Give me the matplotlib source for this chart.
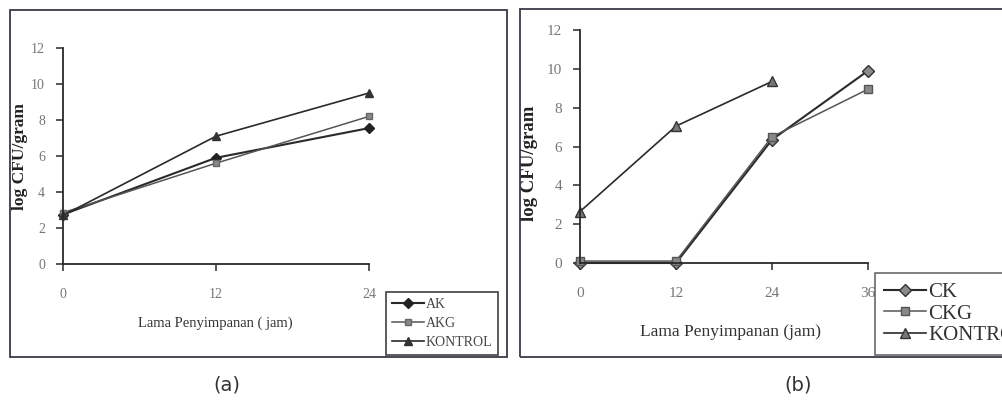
import matplotlib
matplotlib.use("Agg")
import matplotlib.pyplot as plt
from matplotlib.patches import Rectangle

# Panel (a): storage time vs. log CFU/gram
hours_a = [0, 12, 24]
ak = [2.75, 5.9, 7.55]
akg = [2.85, 5.6, 8.2]
kontrol_a = [2.7, 7.1, 9.5]
labels_a = ["AK", "AKG", "KONTROL"]

# Panel (b)
hours_b = [0, 12, 24, 36]
ck = [0.0, 0.0, 6.35, 9.9]
ckg = [0.1, 0.1, 6.5, 8.95]
hours_kontrol_b = [0, 12, 24]
kontrol_b = [2.65, 7.05, 9.35]
labels_b = ["CK", "CKG", "KONTROL"]

y_ticks = [0, 2, 4, 6, 8, 10, 12]

W, H = 1002, 401
fig = plt.figure(figsize=(W / 100, H / 100), dpi=100)
fig.patch.set_facecolor("white")

serif = ["Liberation Serif", "DejaVu Serif"]
line_col = "#2a2a2a"
tick_col = "#777777"


def px_axes(left, top, right, bottom):
    return fig.add_axes([left / W, 1 - bottom / H, (right - left) / W, (bottom - top) / H])


def frame(left, top, right, bottom, lw=1.3):
    fig.patches.append(Rectangle((left / W, 1 - bottom / H), (right - left) / W, (bottom - top) / H,
                                 transform=fig.transFigure, fill=False, edgecolor="#3a3a48",
                                 linewidth=lw, zorder=0))


def style_axes(ax, xticks, size):
    for s in ("top", "right"):
        ax.spines[s].set_visible(False)
    for s in ("left", "bottom"):
        ax.spines[s].set_color(line_col)
        ax.spines[s].set_linewidth(1.3)
    ax.set_xticks(xticks)
    ax.set_yticks(y_ticks)
    ax.tick_params(axis="both", direction="out", length=5, width=1.1, color=line_col,
                   labelcolor=tick_col, labelsize=size)
    ax.tick_params(axis="x", pad=12)
    ax.tick_params(axis="y", pad=8)
    for lab in ax.get_xticklabels() + ax.get_yticklabels():
        lab.set_family(serif)
    ax.set_ylim(0, 12)
    ax.set_facecolor("none")


# Outer frames of the two panels
frame(10, 10, 507, 357)
frame(520, 9, 1010, 357)

# ---- Panel (a) ----
axa = px_axes(63, 48, 369, 264)
axa.plot(hours_a, ak, color=line_col, lw=1.5, marker="D", ms=5, mfc="#222222", mec="#222222", label=labels_a[0], clip_on=False)
axa.plot(hours_a, akg, color="#555555", lw=1.1, marker="s", ms=5, mfc="#888888", mec="#666666", label=labels_a[1], clip_on=False)
axa.plot(hours_a, kontrol_a, color=line_col, lw=1.2, marker="^", ms=6, mfc="#333333", mec="#333333", label=labels_a[2], clip_on=False)
axa.set_xlim(0, 24)
style_axes(axa, hours_a, 10)
axa.set_ylabel("log CFU/gram", family=serif, fontweight="bold", fontsize=12.5, color="#222222")
axa.yaxis.set_label_coords((28 - 63) / 306, (264 - 157) / 216)
fig.text(215 / W, 1 - 323 / H, "Lama Penyimpanan ( jam)", family=serif, fontsize=10.5,
         color="#333333", ha="center", va="center")
lega = fig.legend(handles=axa.get_lines(), labels=labels_a, loc="upper left",
                  bbox_to_anchor=(386 / W, 1 - 292 / H), prop={"family": serif, "size": 10},
                  frameon=True, fancybox=False, edgecolor="#222222", handlelength=2.3,
                  handletextpad=0.1, labelspacing=0.42, borderpad=0.45, borderaxespad=0)
lega.get_frame().set_linewidth(1.3)
for t in lega.get_texts():
    t.set_color("#444444")

# ---- Panel (b) ----
axb = px_axes(580, 30, 868, 263)
axb.plot(hours_b, ck, color=line_col, lw=1.5, marker="D", ms=6, mfc="#8a8a8a", mec="#333333", label=labels_b[0], clip_on=False)
axb.plot(hours_b, ckg, color="#555555", lw=1.1, marker="s", ms=6, mfc="#888888", mec="#555555", label=labels_b[1], clip_on=False)
axb.plot(hours_kontrol_b, kontrol_b, color=line_col, lw=1.2, marker="^", ms=7, mfc="#777777", mec="#333333", label=labels_b[2], clip_on=False)
axb.set_xlim(0, 36)
style_axes(axb, hours_b, 11)
axb.set_ylabel("log CFU/gram", family=serif, fontweight="bold", fontsize=13.5, color="#222222")
axb.yaxis.set_label_coords((538 - 580) / 288, (263 - 163) / 233)
fig.text(730 / W, 1 - 332 / H, "Lama Penyimpanan (jam)", family=serif, fontsize=12.5,
         color="#333333", ha="center", va="center")
legb = fig.legend(handles=axb.get_lines(), labels=labels_b, loc="upper left",
                  bbox_to_anchor=(875 / W, 1 - 273 / H), prop={"family": serif, "size": 15},
                  frameon=True, fancybox=False, edgecolor="#333333", handlelength=2.0,
                  handletextpad=0.1, labelspacing=0.1, borderpad=0.45, borderaxespad=0)
legb.get_frame().set_linewidth(1.1)
for t in legb.get_texts():
    t.set_color("#333333")

# Panel captions
fig.text(227 / W, 1 - 385 / H, "(a)", fontsize=14, color="#333333", ha="center", va="center",
         family=["DejaVu Sans"])
fig.text(798 / W, 1 - 385 / H, "(b)", fontsize=14, color="#333333", ha="center", va="center",
         family=["DejaVu Sans"])

fig.savefig("out.png", dpi=100, facecolor="white")
